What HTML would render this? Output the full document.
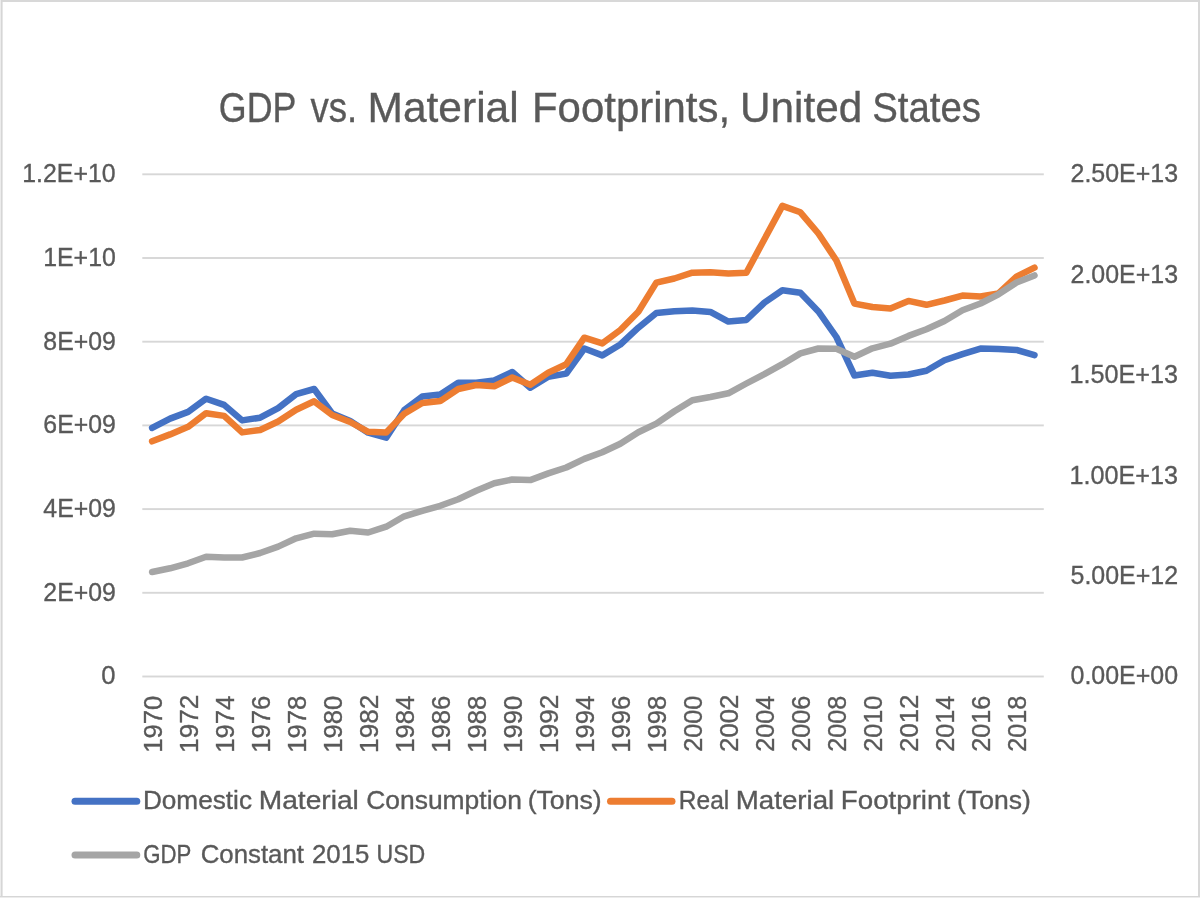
<!DOCTYPE html><html><head><meta charset="utf-8"><title>GDP vs. Material Footprints, United States</title>
<style>html,body{margin:0;padding:0;background:#fff;width:1200px;height:898px;overflow:hidden}svg{display:block;will-change:transform}text{font-family:"Liberation Sans",sans-serif;fill:#595959;stroke:#595959;stroke-width:0.35px}</style></head><body>
<svg width="1200" height="898" viewBox="0 0 1200 898">
<rect x="0" y="0" width="1200" height="898" fill="#fff"/>
<rect x="0" y="0" width="1200" height="2" fill="#d8d8d8"/>
<rect x="0" y="0" width="1" height="898" fill="#ececec"/>
<rect x="1" y="0" width="1" height="898" fill="#d6d6d6"/>
<rect x="2" y="2" width="1" height="894" fill="#e6e6e6"/>
<rect x="1198" y="0" width="2" height="898" fill="#d8d8d8"/>
<rect x="0" y="896" width="1200" height="1" fill="#d6d6d6"/>
<rect x="0" y="897" width="1200" height="1" fill="#ececec"/>
<text x="218.81" y="121.70" font-size="42.3" textLength="77.61" lengthAdjust="spacingAndGlyphs">GDP</text>
<text x="310.50" y="121.70" font-size="42.3" textLength="46.76" lengthAdjust="spacingAndGlyphs">vs.</text>
<text x="367.48" y="121.70" font-size="42.3" textLength="151.22" lengthAdjust="spacingAndGlyphs">Material</text>
<text x="532.03" y="121.70" font-size="42.3" textLength="198.02" lengthAdjust="spacingAndGlyphs">Footprints,</text>
<text x="740.00" y="121.70" font-size="42.3" textLength="122.27" lengthAdjust="spacingAndGlyphs">United</text>
<text x="872.19" y="121.70" font-size="42.3" textLength="108.76" lengthAdjust="spacingAndGlyphs">States</text>
<rect x="142.3" y="173.35" width="901.50" height="1.9" fill="#d7d7d7"/>
<rect x="142.3" y="257.05" width="901.50" height="1.9" fill="#d7d7d7"/>
<rect x="142.3" y="340.75" width="901.50" height="1.9" fill="#d7d7d7"/>
<rect x="142.3" y="424.45" width="901.50" height="1.9" fill="#d7d7d7"/>
<rect x="142.3" y="508.15" width="901.50" height="1.9" fill="#d7d7d7"/>
<rect x="142.3" y="591.85" width="901.50" height="1.9" fill="#d7d7d7"/>
<rect x="142.3" y="675.55" width="901.50" height="1.9" fill="#d7d7d7"/>
<text x="22.29" y="182.20" font-size="26.0" textLength="93.28" lengthAdjust="spacingAndGlyphs">1.2E+10</text>
<text x="43.18" y="265.90" font-size="26.0" textLength="72.68" lengthAdjust="spacingAndGlyphs">1E+10</text>
<text x="43.34" y="349.60" font-size="26.0" textLength="72.52" lengthAdjust="spacingAndGlyphs">8E+09</text>
<text x="43.34" y="433.30" font-size="26.0" textLength="72.52" lengthAdjust="spacingAndGlyphs">6E+09</text>
<text x="43.34" y="517.00" font-size="26.0" textLength="72.52" lengthAdjust="spacingAndGlyphs">4E+09</text>
<text x="43.34" y="600.70" font-size="26.0" textLength="72.52" lengthAdjust="spacingAndGlyphs">2E+09</text>
<text x="101.22" y="684.40" font-size="26.0" textLength="14.25" lengthAdjust="spacingAndGlyphs">0</text>
<text x="1070.54" y="182.20" font-size="26.0" textLength="107.58" lengthAdjust="spacingAndGlyphs">2.50E+13</text>
<text x="1070.54" y="282.64" font-size="26.0" textLength="107.58" lengthAdjust="spacingAndGlyphs">2.00E+13</text>
<text x="1069.56" y="383.08" font-size="26.0" textLength="108.57" lengthAdjust="spacingAndGlyphs">1.50E+13</text>
<text x="1069.56" y="483.52" font-size="26.0" textLength="108.57" lengthAdjust="spacingAndGlyphs">1.00E+13</text>
<text x="1070.54" y="583.96" font-size="26.0" textLength="107.58" lengthAdjust="spacingAndGlyphs">5.00E+12</text>
<text x="1070.54" y="684.40" font-size="26.0" textLength="107.58" lengthAdjust="spacingAndGlyphs">0.00E+00</text>
<text transform="translate(161.90,752.85) rotate(-90)" font-size="26.3" textLength="57.16" lengthAdjust="spacingAndGlyphs">1970</text>
<text transform="translate(197.92,752.89) rotate(-90)" font-size="26.3" textLength="58.20" lengthAdjust="spacingAndGlyphs">1972</text>
<text transform="translate(233.93,752.85) rotate(-90)" font-size="26.3" textLength="57.16" lengthAdjust="spacingAndGlyphs">1974</text>
<text transform="translate(269.95,752.85) rotate(-90)" font-size="26.3" textLength="57.16" lengthAdjust="spacingAndGlyphs">1976</text>
<text transform="translate(305.97,752.85) rotate(-90)" font-size="26.3" textLength="57.16" lengthAdjust="spacingAndGlyphs">1978</text>
<text transform="translate(341.98,752.85) rotate(-90)" font-size="26.3" textLength="57.16" lengthAdjust="spacingAndGlyphs">1980</text>
<text transform="translate(378.00,752.89) rotate(-90)" font-size="26.3" textLength="58.20" lengthAdjust="spacingAndGlyphs">1982</text>
<text transform="translate(414.01,752.85) rotate(-90)" font-size="26.3" textLength="57.16" lengthAdjust="spacingAndGlyphs">1984</text>
<text transform="translate(450.03,752.85) rotate(-90)" font-size="26.3" textLength="57.16" lengthAdjust="spacingAndGlyphs">1986</text>
<text transform="translate(486.05,752.85) rotate(-90)" font-size="26.3" textLength="57.16" lengthAdjust="spacingAndGlyphs">1988</text>
<text transform="translate(522.06,752.85) rotate(-90)" font-size="26.3" textLength="57.16" lengthAdjust="spacingAndGlyphs">1990</text>
<text transform="translate(558.08,752.89) rotate(-90)" font-size="26.3" textLength="58.20" lengthAdjust="spacingAndGlyphs">1992</text>
<text transform="translate(594.10,752.85) rotate(-90)" font-size="26.3" textLength="57.16" lengthAdjust="spacingAndGlyphs">1994</text>
<text transform="translate(630.11,752.85) rotate(-90)" font-size="26.3" textLength="57.16" lengthAdjust="spacingAndGlyphs">1996</text>
<text transform="translate(666.13,752.85) rotate(-90)" font-size="26.3" textLength="57.16" lengthAdjust="spacingAndGlyphs">1998</text>
<text transform="translate(702.14,751.86) rotate(-90)" font-size="26.3" textLength="56.15" lengthAdjust="spacingAndGlyphs">2000</text>
<text transform="translate(738.16,751.88) rotate(-90)" font-size="26.3" textLength="57.16" lengthAdjust="spacingAndGlyphs">2002</text>
<text transform="translate(774.18,751.86) rotate(-90)" font-size="26.3" textLength="56.15" lengthAdjust="spacingAndGlyphs">2004</text>
<text transform="translate(810.19,751.86) rotate(-90)" font-size="26.3" textLength="56.15" lengthAdjust="spacingAndGlyphs">2006</text>
<text transform="translate(846.21,751.86) rotate(-90)" font-size="26.3" textLength="56.15" lengthAdjust="spacingAndGlyphs">2008</text>
<text transform="translate(882.23,751.86) rotate(-90)" font-size="26.3" textLength="56.15" lengthAdjust="spacingAndGlyphs">2010</text>
<text transform="translate(918.24,751.88) rotate(-90)" font-size="26.3" textLength="57.16" lengthAdjust="spacingAndGlyphs">2012</text>
<text transform="translate(954.26,751.86) rotate(-90)" font-size="26.3" textLength="56.15" lengthAdjust="spacingAndGlyphs">2014</text>
<text transform="translate(990.28,751.86) rotate(-90)" font-size="26.3" textLength="56.15" lengthAdjust="spacingAndGlyphs">2016</text>
<text transform="translate(1026.29,751.86) rotate(-90)" font-size="26.3" textLength="56.15" lengthAdjust="spacingAndGlyphs">2018</text>
<path d="M152.10,427.90 L170.11,418.60 L188.12,411.90 L206.12,398.70 L224.13,404.90 L242.14,420.40 L260.15,417.70 L278.16,408.10 L296.17,394.10 L314.17,389.00 L332.18,413.50 L350.19,421.00 L368.20,432.70 L386.21,437.70 L404.21,410.20 L422.22,396.50 L440.23,394.50 L458.24,382.75 L476.25,382.75 L494.26,380.50 L512.26,372.00 L530.27,387.70 L548.28,376.80 L566.29,373.60 L584.30,348.50 L602.30,355.40 L620.31,344.50 L638.32,327.70 L656.33,313.10 L674.34,311.30 L692.34,310.60 L710.35,311.90 L728.36,321.60 L746.37,319.90 L764.38,302.60 L782.39,290.20 L800.39,292.80 L818.40,311.40 L836.41,337.00 L854.42,375.50 L872.43,372.70 L890.43,375.80 L908.44,374.50 L926.45,370.70 L944.46,360.30 L962.47,354.10 L980.48,348.60 L998.48,348.90 L1016.49,349.90 L1034.50,355.20" fill="none" stroke="#4472C4" stroke-width="6.5" stroke-linecap="round" stroke-linejoin="round"/>
<path d="M152.10,441.30 L170.11,434.40 L188.12,426.80 L206.12,413.20 L224.13,415.90 L242.14,432.40 L260.15,430.00 L278.16,421.50 L296.17,409.70 L314.17,401.30 L332.18,415.00 L350.19,422.00 L368.20,431.80 L386.21,432.50 L404.21,413.80 L422.22,403.00 L440.23,401.10 L458.24,389.00 L476.25,385.00 L494.26,386.25 L512.26,377.50 L530.27,384.70 L548.28,372.60 L566.29,364.20 L584.30,337.70 L602.30,343.40 L620.31,330.00 L638.32,311.80 L656.33,282.60 L674.34,278.50 L692.34,272.70 L710.35,272.20 L728.36,273.50 L746.37,272.70 L764.38,239.30 L782.39,205.90 L800.39,212.30 L818.40,233.50 L836.41,260.50 L854.42,303.60 L872.43,307.00 L890.43,308.40 L908.44,300.90 L926.45,304.80 L944.46,300.50 L962.47,295.60 L980.48,296.50 L998.48,293.40 L1016.49,276.70 L1034.50,267.70" fill="none" stroke="#ED7D31" stroke-width="6.5" stroke-linecap="round" stroke-linejoin="round"/>
<path d="M152.10,572.00 L170.11,568.30 L188.12,563.30 L206.12,556.70 L224.13,557.50 L242.14,557.50 L260.15,553.00 L278.16,546.60 L296.17,538.30 L314.17,533.70 L332.18,534.20 L350.19,530.80 L368.20,532.50 L386.21,526.70 L404.21,516.30 L422.22,510.80 L440.23,505.80 L458.24,499.20 L476.25,490.80 L494.26,483.30 L512.26,479.50 L530.27,480.10 L548.28,473.40 L566.29,467.50 L584.30,458.90 L602.30,452.20 L620.31,443.70 L638.32,432.30 L656.33,423.60 L674.34,411.30 L692.34,400.20 L710.35,397.00 L728.36,393.30 L746.37,383.50 L764.38,374.20 L782.39,364.20 L800.39,353.40 L818.40,348.50 L836.41,348.70 L854.42,356.80 L872.43,348.30 L890.43,343.70 L908.44,335.90 L926.45,329.30 L944.46,321.00 L962.47,310.20 L980.48,303.50 L998.48,294.30 L1016.49,282.60 L1034.50,275.40" fill="none" stroke="#A5A5A5" stroke-width="6.5" stroke-linecap="round" stroke-linejoin="round"/>
<path d="M75,801.2 L136.8,801.2" stroke="#4472C4" stroke-width="7" stroke-linecap="round"/>
<path d="M610.5,801.2 L672,801.2" stroke="#ED7D31" stroke-width="7" stroke-linecap="round"/>
<path d="M75,855 L136.8,855" stroke="#A5A5A5" stroke-width="7" stroke-linecap="round"/>
<text x="142.92" y="808.75" font-size="25.2" textLength="109.09" lengthAdjust="spacingAndGlyphs">Domestic</text>
<text x="258.77" y="808.75" font-size="25.2" textLength="100.01" lengthAdjust="spacingAndGlyphs">Material</text>
<text x="366.25" y="808.75" font-size="25.2" textLength="155.64" lengthAdjust="spacingAndGlyphs">Consumption</text>
<text x="527.68" y="808.75" font-size="25.2" textLength="74.01" lengthAdjust="spacingAndGlyphs">(Tons)</text>
<text x="678.85" y="808.75" font-size="25.2" textLength="50.41" lengthAdjust="spacingAndGlyphs">Real</text>
<text x="735.80" y="808.75" font-size="25.2" textLength="98.45" lengthAdjust="spacingAndGlyphs">Material</text>
<text x="840.80" y="808.75" font-size="25.2" textLength="109.35" lengthAdjust="spacingAndGlyphs">Footprint</text>
<text x="957.09" y="808.75" font-size="25.2" textLength="73.70" lengthAdjust="spacingAndGlyphs">(Tons)</text>
<text x="143.32" y="862.50" font-size="25.2" textLength="48.08" lengthAdjust="spacingAndGlyphs">GDP</text>
<text x="200.67" y="862.50" font-size="25.2" textLength="103.33" lengthAdjust="spacingAndGlyphs">Constant</text>
<text x="311.98" y="862.50" font-size="25.2" textLength="57.40" lengthAdjust="spacingAndGlyphs">2015</text>
<text x="376.46" y="862.50" font-size="25.2" textLength="48.83" lengthAdjust="spacingAndGlyphs">USD</text>
</svg></body></html>
